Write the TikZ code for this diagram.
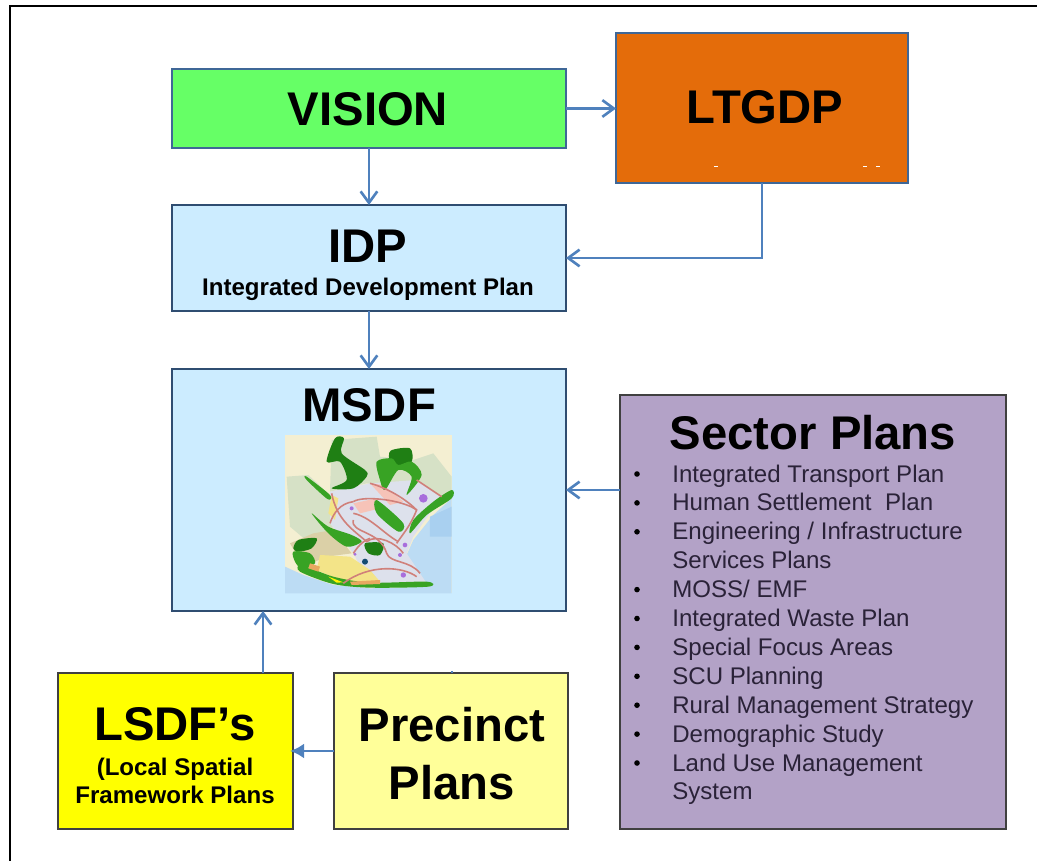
\documentclass[tikz,border=0pt]{standalone}
\usepackage{fontspec}
\setmainfont{Liberation Sans}
\usepackage{xcolor}
\usepackage{tikz}
\usetikzlibrary{arrows.meta,calc}
\definecolor{linkblue}{HTML}{4F81BD}
\definecolor{visiongreen}{HTML}{66FF66}
\definecolor{ltgdporange}{HTML}{E46C0A}
\definecolor{planblue}{HTML}{CCECFF}
\definecolor{sectorpurple}{HTML}{B3A2C7}
\definecolor{lsdfyellow}{HTML}{FFFF00}
\definecolor{paleyellow}{HTML}{FFFF99}
\definecolor{mapcream}{HTML}{F4EFD2}
\definecolor{mapsea}{HTML}{BCDCF4}
\definecolor{mapshelf}{HTML}{A9D0F0}
\definecolor{maphill}{HTML}{D6E1C6}
\definecolor{mapurban}{HTML}{DDE1EC}
\definecolor{mapgreen}{HTML}{38A324}
\definecolor{mapdark}{HTML}{1F7F14}
\definecolor{maproad}{HTML}{D0807A}
\definecolor{mappink}{HTML}{F6C3B8}
\definecolor{mapyellow}{HTML}{F3E488}
\definecolor{maporange}{HTML}{E8A860}
\definecolor{mapviolet}{HTML}{A86EDC}
\definecolor{itemink}{HTML}{2A2238}
\tikzset{
	box/.style={draw=#1,line width=1.1pt,inner sep=0pt,outer sep=0pt,anchor=north west},
	bigtext/.style={font=\bfseries\fontsize{26.9}{30}\selectfont,inner sep=0pt,anchor=base},
	subtext/.style={font=\bfseries\fontsize{13.7}{16}\selectfont,inner sep=0pt,anchor=base},
	itemtext/.style={font=\fontsize{13.7}{16}\selectfont,text=itemink,inner sep=0pt,anchor=base west},
	link/.style={draw=linkblue,line width=1.5pt,-{Straight Barb[length=6.5pt,width=9.5pt]}},
	solidlink/.style={draw=linkblue,line width=1.5pt,shorten >=-1.7pt,-{Latex[length=8pt,width=8.5pt]}}
}
\begin{document}
\begin{tikzpicture}[x=0.02cm,y=-0.02cm]
	\useasboundingbox (0,0) rectangle (1037,861);
	\draw[line width=1.7pt] (10,861)--(10,6)--(1037,6);
	% boxes
	\node[box=linkblue!80!black,fill=visiongreen,minimum width=7.88cm,minimum height=1.58cm] (vision) at (172,69) {};
	\node[box=linkblue!80!black,fill=ltgdporange,minimum width=5.84cm,minimum height=3cm] (ltgdp) at (616,33) {};
	\node[box=linkblue!60!black,fill=planblue,minimum width=7.88cm,minimum height=2.12cm] (idp) at (172,205) {};
	\node[box=linkblue!60!black,fill=planblue,minimum width=7.88cm,minimum height=4.84cm] (msdf) at (172,369) {};
	\node[box=black!75,fill=sectorpurple,minimum width=7.72cm,minimum height=8.68cm] (sector) at (620,395) {};
	\node[box=black!75,fill=lsdfyellow,minimum width=4.7cm,minimum height=3.12cm] (lsdf) at (58,673) {};
	\node[box=black!75,fill=paleyellow,minimum width=4.68cm,minimum height=3.12cm] (precinct) at (334,673) {};
	% titles
	\node[bigtext] (visiontxt) at (368,126) {VISION};
	\node[bigtext] (ltgdptxt) at (765,124) {LTGDP};
	\node[bigtext] (idptxt) at (368,263) {IDP};
	\node[subtext] (idpsub) at (368,296) {Integrated Development Plan};
	\node[bigtext] (msdftxt) at (369,421) {MSDF};
	\node[bigtext] (sectortxt) at (813,449) {Sector Plans};
	\node[bigtext] (lsdftxt) at (175,740) {LSDF’s};
	\node[subtext] (lsdfsub) at (175,775) {(Local Spatial};
	\node[subtext] (lsdfsubb) at (175,803) {Framework Plans};
	\node[bigtext] (precincttxt) at (452,741) {Precinct};
	\node[bigtext] (precinctb) at (452,799) {Plans};
	% sector list
	\foreach \i/\t in {0/{Integrated Transport Plan}, 1/{Human Settlement \ Plan}, 2/{Engineering / Infrastructure}, 3/{Services Plans}, 4/{MOSS/ EMF}, 5/{Integrated Waste Plan}, 6/{Special Focus Areas}, 7/{SCU Planning}, 8/{Rural Management Strategy}, 9/{Demographic Study}, 10/{Land Use Management}, 11/{System}}
	{\node[itemtext] (item\i) at (672,482+28.9*\i) {\t};}
	\foreach \i in {0,1,2,4,5,6,7,8,9,10}
	{\fill[black] (637,474+28.9*\i) circle (2.8);}
	% map
	\begin{scope}[shift={(270,420)},x=0.00667cm,y=-0.00667cm]
		\fill[mapcream] (45,45) rectangle (545,520);
		\fill[maphill] (50,170)--(115,165)--(185,230)--(190,320)--(125,375)--(60,320)--cycle;
		\fill[maphill] (185,60)--(320,50)--(330,110)--(430,120)--(490,100)--(545,170)--(545,240)--(440,215)--(290,190)--(180,215)--cycle;
		\fill[mapsea] (545,235)--(490,285)--(430,360)--(410,405)--(425,445)--(480,500)--(300,505)--(190,495)--(100,465)--(45,440)--(45,520)--(545,520)--cycle;
		\fill[mapshelf] (480,290)--(545,260)--(545,350)--(480,350)--cycle;
		\fill[mapurban] (180,215)--(300,190)--(440,180)--(515,230)--(430,350)--(410,400)--(470,490)--(300,495)--(250,400)--(180,310)--cycle;
		\fill[mappink] (300,190)--(340,195)--(400,245)--(360,255)--cycle;
		\fill[mappink] (250,250)--(320,235)--(330,265)--(270,280)--cycle;
		\fill[maphill!70!maporange] (60,370)--(130,340)--(190,330)--(245,400)--(170,410)--(100,440)--cycle;
		\fill[mapyellow] (150,405)--(240,410)--(300,450)--(330,485)--(230,490)--(140,450)--cycle;
		\fill[mapyellow] (185,225)--(205,235)--(195,300)--(175,280)--cycle;
		% bush
		\fill[mapdark] plot[smooth cycle] coordinates {(195,55) (222,55) (215,100) (285,150) (290,170) (250,205) (185,205) (230,180) (210,125) (170,125)};
		\fill[mapdark] plot[smooth cycle] coordinates {(362,92) (420,85) (425,125) (385,135) (360,125)};
		\fill[mapgreen] plot[smooth cycle] coordinates {(320,125) (365,115) (385,135) (425,125) (455,165) (410,225) (425,170) (385,150) (345,210) (330,180)};
		\fill[mapgreen] plot[smooth cycle] coordinates {(125,280) (175,320) (245,345) (275,365) (230,380) (175,340)};
		\fill[mapgreen] plot[smooth cycle] coordinates {(110,170) (180,225) (172,237) (110,180)};
		\fill[mapgreen] plot[smooth cycle] coordinates {(545,210) (490,245) (430,300) (420,340) (470,285) (545,235)};
		\fill[mapdark] plot[smooth cycle] coordinates {(85,360) (140,355) (125,385) (85,395) (70,385)};
		\fill[mapgreen] plot[smooth cycle] coordinates {(70,395) (120,400) (135,430) (95,445) (75,425)};
		\fill[mapdark] plot[smooth cycle] coordinates {(285,370) (340,370) (330,405) (295,400)};
		\fill[mapgreen] plot[smooth cycle] coordinates {(320,240) (400,310) (385,335) (320,280)};
		\fill[mapgreen] plot[smooth cycle] coordinates {(95,435) (190,470) (300,488) (470,485) (475,500) (300,503) (190,492) (90,455)};
		\fill[yellow] (175,470)--(220,487)--(200,488)--cycle;
		\fill[maporange] (120,430)--(150,440)--(145,455)--(115,445)--cycle;
		\fill[maporange] (240,485)--(330,480)--(330,492)--(245,495)--cycle;
		% roads
		\draw[maproad,line width=0.9pt] (185,220) .. controls (200,300) and (250,330) .. (290,365) .. controls (320,340) and (380,370) .. (400,400);
		\draw[maproad,line width=0.9pt] (250,245) .. controls (280,225) and (400,240) .. (440,270) .. controls (420,320) and (400,340) .. (380,370);
		\draw[maproad,line width=0.9pt] (250,280) .. controls (300,290) and (340,340) .. (385,365);
		\draw[maproad,line width=0.9pt] (180,310) .. controls (190,280) and (210,250) .. (250,245);
		\draw[maproad,line width=0.9pt] (250,400) .. controls (270,370) and (285,360) .. (300,355);
		\draw[maproad,line width=0.9pt] (220,490) .. controls (300,430) and (400,440) .. (440,470);
		\draw[maproad,line width=0.9pt] (300,190) .. controls (340,200) and (400,230) .. (440,270);
		\draw[maproad,line width=0.9pt] (440,180) -- (515,230);
		\draw[maproad,line width=0.9pt] (250,300) .. controls (240,340) and (330,330) .. (350,400) .. controls (360,430) and (420,420) .. (450,460);
		% spots
		\foreach \px/\py/\pr in {460/235/13, 245/265/6, 405/375/7, 400/465/8, 390/405/6, 255/403/5}
		{\fill[mapviolet] (\px,\py) circle (\pr);}
		\fill[mapdark!60!blue] (285,425) circle (9);
	\end{scope}
	% specks on the orange box
	\foreach \sx in {716,865,878}
	{\draw[white,line width=0.5pt] (\sx-2,166)--(\sx+2,166);}
	% connectors
	\coordinate (lsdfout) at (263,673);
	\coordinate (nub) at (452,671);
	\draw[link] (vision.east)--(ltgdp.west|-vision.east);
	\draw[link] (vision.south)--(idp.north);
	\draw[link] (idp.south)--(msdf.north);
	\draw[link] (ltgdp.south)|-(idp.east);
	\draw[link] (sector.west|-msdf.east)--(msdf.east);
	\draw[link] (lsdfout)--(lsdfout|-msdf.south);
	\draw[solidlink] (precinct.west)--(lsdf.east);
	\draw[linkblue,line width=0.8pt] (nub)--(nub|-precinct.north);
\end{tikzpicture}
\end{document}
